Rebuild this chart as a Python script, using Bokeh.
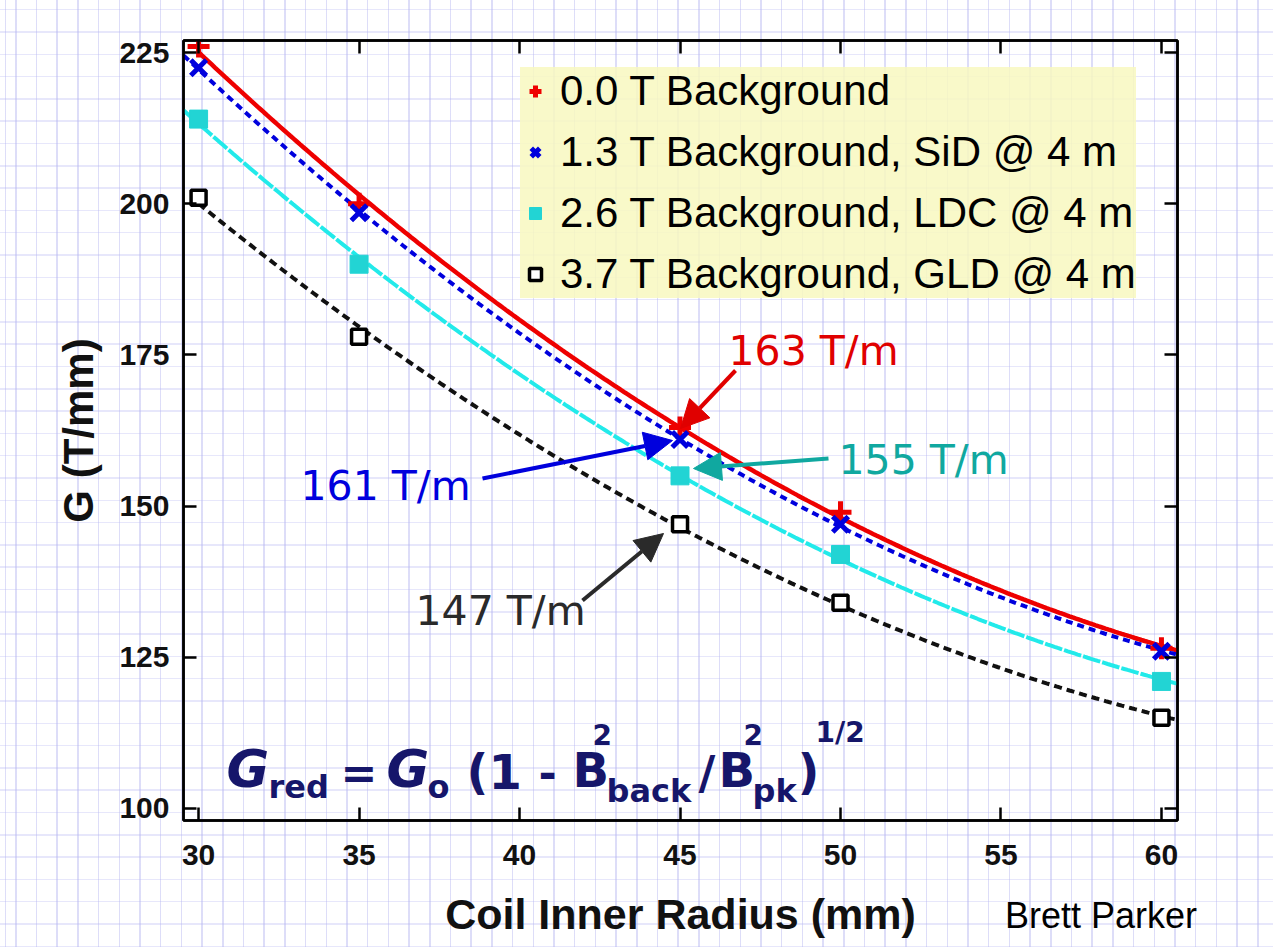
import numpy as np
from bokeh.plotting import figure
from bokeh.layouts import column
from bokeh.models import (LinearAxis, FixedTicker, Legend, LegendItem, Label, Arrow,
                          NormalHead, InlineStyleSheet, Range1d, Div)
from bokeh.embed import file_html
from bokeh.resources import INLINE

# ---------------- data ----------------
radius = [30, 35, 45, 50, 60]
g_0T = [226.0, 200.0, 163.0, 149.0, 126.5]
g_13T = [222.5, 198.5, 161.0, 147.0, 126.0]
g_26T = [214.0, 190.0, 155.0, 142.0, 121.0]
g_37T = [201.0, 178.0, 147.0, 134.0, 115.0]
series_labels = ["0.0 T Background", "1.3 T Background, SiD @ 4 m",
                 "2.6 T Background, LDC @ 4 m", "3.7 T Background, GLD @ 4 m"]
x_ticks = [30, 35, 40, 45, 50, 55, 60]
y_ticks = [100, 125, 150, 175, 200, 225]
callouts = ["163 T/m", "161 T/m", "155 T/m", "147 T/m"]
credit = "Brett Parker"

# ---------------- layout constants ----------------
W, H = 1273, 947
FL, FR, FT, FB = 183, 1177, 40, 820
X0, X1 = 29.53, 60.5
Y0, Y1 = 98.0, 227.0


def dx(px):
    return X0 + (px - FL) / (FR - FL) * (X1 - X0)


def dy(py):
    return Y0 + (FB - py) / (FB - FT) * (Y1 - Y0)


def base_y(py, size):
    # place a label so that its alphabetic baseline lands on screen row py
    return dy(py - 0.42 * size)


css = """
:host {
  background-color: #ffffff;
  background-image:
    repeating-linear-gradient(to right, rgba(180,180,240,0.45) 0px, rgba(180,180,240,0.45) 1.5px, transparent 1.5px, transparent 20.7px),
    repeating-linear-gradient(to bottom, rgba(195,195,245,0.4) 0px, rgba(195,195,245,0.4) 1.5px, transparent 1.5px, transparent 22.3px);
  background-position: 15px 0px, 0px 9px;
}
"""

p = figure(width=W, height=H, output_backend="svg", toolbar_location=None,
           x_range=Range1d(X0, X1), y_range=Range1d(Y0, Y1),
           min_border_left=FL, min_border_right=W - FR,
           min_border_top=FT, min_border_bottom=H - FB,
           background_fill_color=None, border_fill_color=None)
p.stylesheets = [InlineStyleSheet(css=css)]
p.grid.visible = False
p.outline_line_color = "black"
p.outline_line_width = 2.5

TICK_FONT = "Liberation Sans"

xa = p.xaxis[0]
ya = p.yaxis[0]
xa.ticker = FixedTicker(ticks=x_ticks)
ya.ticker = FixedTicker(ticks=y_ticks)
for ax in (xa, ya):
    ax.axis_line_width = 2.5
    ax.axis_line_color = "black"
    ax.major_tick_in = 13
    ax.major_tick_out = 0
    ax.major_tick_line_width = 2.5
    ax.minor_tick_line_color = None
    ax.major_label_text_font = TICK_FONT
    ax.major_label_text_font_style = "bold"
    ax.major_label_text_font_size = "30px"
    ax.major_label_text_color = "#111111"
    ax.axis_label_text_font = TICK_FONT
    ax.axis_label_text_font_style = "bold"
    ax.axis_label_text_color = "#111111"
xa.axis_label = "Coil Inner Radius (mm)"
ya.axis_label = "G (T/mm)"
xa.axis_label_text_font_size = "43px"
ya.axis_label_text_font_size = "42px"
xa.major_label_standoff = 24
xa.axis_label_standoff = 22
ya.major_label_standoff = 14
ya.axis_label_standoff = 14

# mirrored axes (ticks only)
for loc, ticks in (("above", x_ticks), ("right", y_ticks)):
    ax = LinearAxis(ticker=FixedTicker(ticks=ticks))
    ax.axis_line_width = 2.5
    ax.major_tick_in = 13
    ax.major_tick_out = 0
    ax.major_tick_line_width = 2.5
    ax.minor_tick_line_color = None
    ax.major_label_text_font_size = "0px"
    ax.major_label_text_alpha = 0
    ax.major_label_standoff = 0
    p.add_layout(ax, loc)

# ---------------- curves (quadratic fits to each series) ----------------
styles = [
    dict(color="#ee0000", dash="solid", width=4.5, start=radius[0]),
    dict(color="#0000dd", dash="7 5", width=4, start=X0),
    dict(color="#22eaea", dash="18 2", width=4, start=X0),
    dict(color="#111111", dash="8 5", width=4, start=radius[0]),
]
all_series = [g_0T, g_13T, g_26T, g_37T]
for s, st in zip(all_series, styles):
    c = np.polyfit(radius, s, 2)
    xs = np.linspace(st["start"], X1, 300)
    p.line(xs, np.polyval(c, xs), line_color=st["color"], line_width=st["width"],
           line_dash=st["dash"])

# ---------------- markers ----------------
r0 = p.scatter(radius, g_0T, marker="cross", size=22, line_color="#ee0000", line_width=5)
r1 = p.scatter(radius, g_13T, marker="x", size=22, line_color="#0000dd", line_width=5)
r2 = p.scatter(radius, g_26T, marker="square", size=18, fill_color="#22d4d4",
               line_color="#22d4d4", line_width=1)
r3 = p.scatter(radius, g_37T, marker="square", size=15, fill_color="white",
               line_color="black", line_width=3.5)

legend = Legend(items=[LegendItem(label=l, renderers=[r]) for l, r in
                       zip(series_labels, [r0, r1, r2, r3])],
                location=(520 - FL, FB - 298),
                background_fill_color="#f8f8c0", background_fill_alpha=0.85,
                border_line_color=None,
                label_text_font="Liberation Sans", label_text_font_size="42px",
                label_text_color="black",
                glyph_width=30, glyph_height=34, label_height=34,
                label_standoff=10, spacing=13, padding=18, margin=0)
p.add_layout(legend, "center")

# ---------------- callouts ----------------
CALLOUT_SIZE = 41
callout_style = [
    # text, color, text left px, text baseline px, arrow start px, arrow end px
    (callouts[0], "#e00000", 728, 368, (735, 370), (680, 428)),
    (callouts[1], "#0000dd", 300, 503, (482, 478), (672, 440)),
    (callouts[2], "#10a8a0", 838, 477, (828, 458), (693, 468)),
    (callouts[3], "#2a2a2a", 415, 628, (582, 600), (663, 533)),
]
for txt, col, tx, ty, a0, a1 in callout_style:
    p.add_layout(Label(x=dx(tx), y=base_y(ty, CALLOUT_SIZE), text=txt, text_color=col,
                       text_font="DejaVu Sans", text_font_size=f"{CALLOUT_SIZE}px",
                       text_baseline="alphabetic", text_align="left"))
    p.add_layout(Arrow(x_start=dx(a0[0]), y_start=dy(a0[1]), x_end=dx(a1[0]), y_end=dy(a1[1]),
                       line_color=col, line_width=4,
                       end=NormalHead(size=28, fill_color=col, line_color=col)))

# ---------------- formula ----------------
NAVY = "#16166a"
pieces = [
    # text, left px, baseline px, size px, style
    ("G", 226, 790, 52, "bold italic"),
    ("red", 268, 800, 32, "bold"),
    ("=", 340, 790, 44, "bold"),
    ("G", 386, 790, 52, "bold italic"),
    ("o", 427, 800, 32, "bold"),
    ("(1", 466, 792, 48, "bold"),
    ("-", 538, 790, 44, "bold"),
    ("B", 572, 790, 48, "bold"),
    ("2", 592, 746, 28, "bold"),
    ("back", 606, 804, 32, "bold"),
    ("/", 698, 792, 46, "bold"),
    ("B", 718, 790, 48, "bold"),
    ("2", 743, 746, 28, "bold"),
    ("pk", 752, 804, 32, "bold"),
    (")", 797, 792, 48, "bold"),
    ("1/2", 815, 744, 28, "bold"),
]
for t, lx, by, sz, stl in pieces:
    p.add_layout(Label(x=dx(lx), y=base_y(by, sz), text=t, text_color=NAVY,
                       text_font="DejaVu Sans", text_font_size=f"{sz}px",
                       text_font_style=stl, text_baseline="alphabetic",
                       text_align="left"))

# credit (outside the plot frame, so placed as an overlay text element)
credit_div = Div(text=credit, width=260, height=44, margin=(0, 0, 0, 0),
                 styles={"position": "absolute", "left": "1005px", "top": "898px",
                         "font-family": "Liberation Sans", "font-size": "36px",
                         "line-height": "36px", "color": "black",
                         "white-space": "nowrap", "z-index": "5"})

layout = column(p, credit_div, spacing=0, margin=(0, 0, 0, 0))
open("out.html", "w").write(file_html(layout, INLINE))
